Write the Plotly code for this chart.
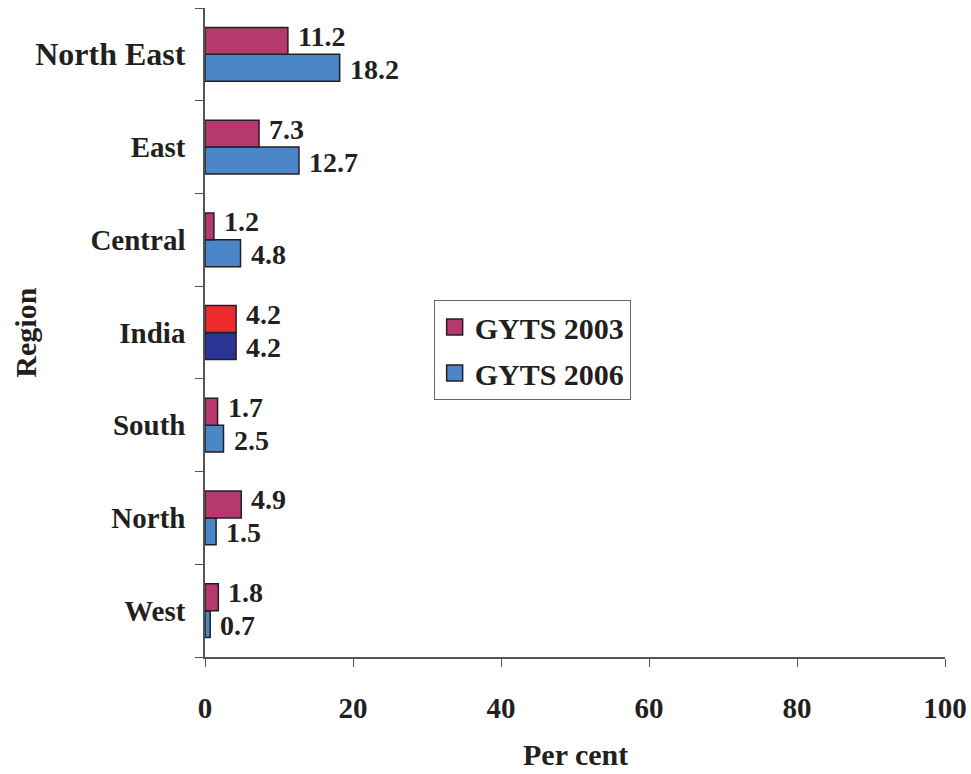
import plotly.graph_objects as go

regions = ["West", "North", "South", "India", "Central", "East", "North East"]
gyts_2003 = [1.8, 4.9, 1.7, 4.2, 1.2, 7.3, 11.2]
gyts_2006 = [0.7, 1.5, 2.5, 4.2, 4.8, 12.7, 18.2]
x_ticks = [0, 20, 40, 60, 80, 100]

col_2003 = "#B5386E"
col_2006 = "#4A86C8"
india_2003 = "#EE2A2E"
india_2006 = "#2B3594"

c03 = [india_2003 if r == "India" else col_2003 for r in regions]
c06 = [india_2006 if r == "India" else col_2006 for r in regions]

FONT = "Liberation Serif"
INK = "#231F20"
labfont = dict(family=FONT, size=28, color=INK)

fig = go.Figure()
fig.add_trace(go.Bar(
    y=regions, x=gyts_2006, orientation="h", name="GYTS 2006",
    marker=dict(color=c06, line=dict(color=INK, width=1.5)),
    cliponaxis=False, showlegend=False, hoverinfo="x+y",
))
fig.add_trace(go.Bar(
    y=regions, x=gyts_2003, orientation="h", name="GYTS 2003",
    marker=dict(color=c03, line=dict(color=INK, width=1.5)),
    cliponaxis=False, showlegend=False, hoverinfo="x+y",
))
# legend-only entries with larger square swatches
for nm, col, grp in [("GYTS 2003", col_2003, "a"), ("GYTS 2006", col_2006, "b")]:
    fig.add_trace(go.Scatter(
        x=[None], y=[None], mode="markers", name=f"<b>{nm}</b>", legendgroup=grp,
        marker=dict(symbol="square", size=19, color=col, line=dict(color=INK, width=1.5)),
    ))

# value labels placed just right of each bar end (2003 bar is upper, 2006 lower)
for r, v in zip(regions, gyts_2003):
    fig.add_annotation(x=v, y=r, text=f"<b>{v}</b>", showarrow=False, xanchor="left",
                       yanchor="middle", xshift=8, yshift=18, font=labfont)
for r, v in zip(regions, gyts_2006):
    fig.add_annotation(x=v, y=r, text=f"<b>{v}</b>", showarrow=False, xanchor="left",
                       yanchor="middle", xshift=8, yshift=-15, font=labfont)

# axis titles
fig.add_annotation(xref="paper", yref="paper", x=-0.243, y=0.5, text="<b>Region</b>",
                   textangle=-90, showarrow=False, xanchor="center", yanchor="middle",
                   font=dict(family=FONT, size=30, color=INK))
fig.add_annotation(xref="paper", yref="paper", x=0.5, y=-0.1495, text="<b>Per cent</b>",
                   showarrow=False, xanchor="center", yanchor="middle",
                   font=dict(family=FONT, size=30, color=INK))

ticktext = [f"<b>{r}</b>" if r != "North East" else "<b><span style='font-size:32px'>North East</span></b>" for r in regions]

fig.update_layout(
    width=971, height=774,
    margin=dict(l=205, r=26, t=8, b=117),
    paper_bgcolor="white", plot_bgcolor="white",
    barmode="group", bargap=0.42, bargroupgap=0,
    font=dict(family=FONT, size=28, color=INK),
    showlegend=True,
    legend=dict(
        x=0.309, y=0.55, xanchor="left", yanchor="top",
        bgcolor="white", bordercolor="#666666", borderwidth=1,
        font=dict(family=FONT, size=30, color=INK),
        traceorder="grouped", tracegroupgap=4, itemwidth=30,
    ),
    xaxis=dict(
        range=[0, 100], tickvals=x_ticks, ticktext=[f"<b>{t}</b>" for t in x_ticks],
        showgrid=False, zeroline=False, showline=True, linecolor="#555555", linewidth=1.5,
        ticks="outside", ticklen=8, tickcolor="#555555", tickwidth=1,
        ticklabelstandoff=16, automargin=False,
        tickfont=dict(family=FONT, size=29, color=INK),
    ),
    yaxis=dict(
        categoryorder="array", categoryarray=regions,
        tickvals=regions, ticktext=ticktext,
        showgrid=False, zeroline=False, showline=True, linecolor="#555555", linewidth=1.5,
        ticks="outside", tickson="boundaries", ticklen=8, tickcolor="#555555", tickwidth=1,
        ticklabelstandoff=12, automargin=False,
        tickfont=dict(family=FONT, size=29, color=INK),
    ),
)

fig.write_html("out.html", config={"displayModeBar": False},
               post_script="document.body.style.margin='0';")
